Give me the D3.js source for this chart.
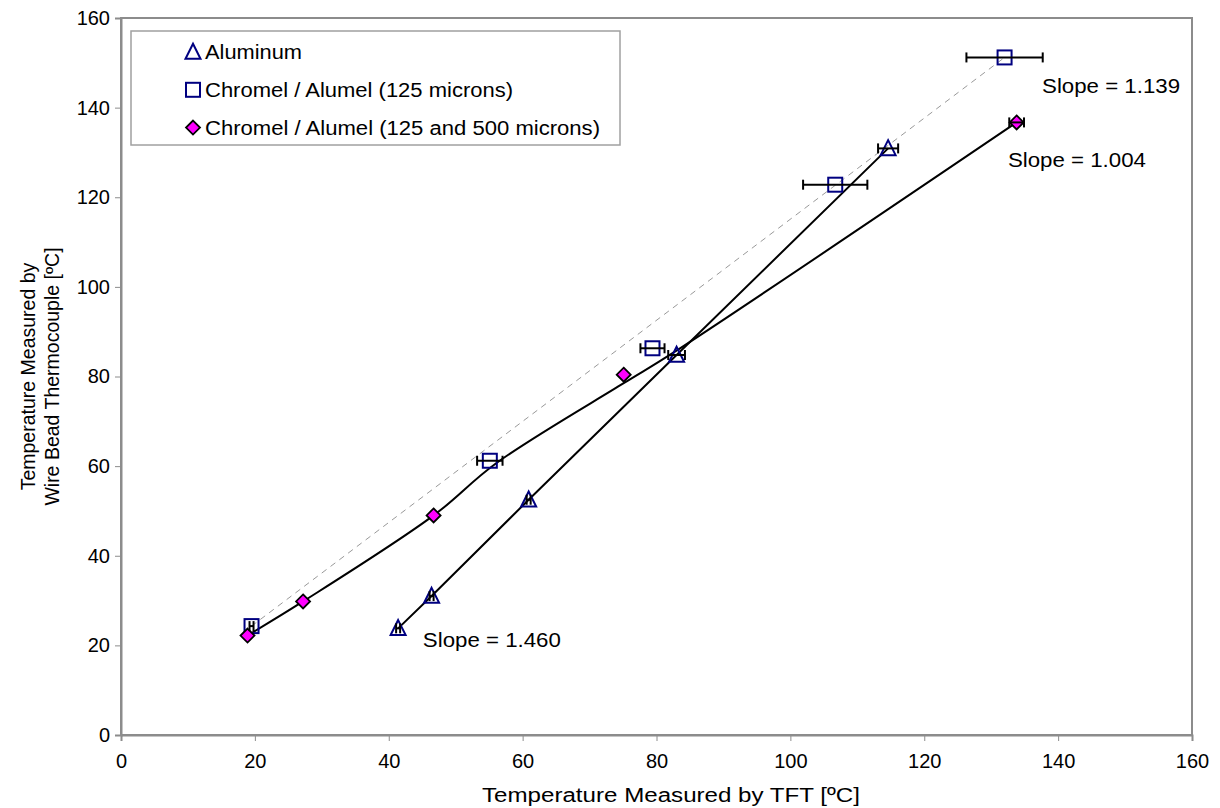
<!DOCTYPE html>
<html><head><meta charset="utf-8">
<script src="https://cdn.jsdelivr.net/npm/d3@7"></script>
<style>body{margin:0;background:#fff}svg{display:block}text{font-family:"Liberation Sans",Arial,sans-serif;fill:#000}</style>
</head><body>
<svg id="c" width="1220" height="808"></svg>
<script>
// ---- data ----
const seriesNames = ["Aluminum", "Chromel / Alumel (125 microns)", "Chromel / Alumel (125 and 500 microns)"];
const aluX = [41.4, 46.4, 60.9, 83.0, 114.6];
const aluY = [23.8, 31.0, 52.5, 84.8, 130.9];
const aluErr = [0.3, 0.3, 0.3, 1.25, 1.5];
const chromX = [19.5, 55.1, 79.4, 106.7, 132.0];
const chromY = [24.3, 61.2, 86.3, 122.8, 151.2];
const chromErr = [0.3, 1.9, 1.8, 4.8, 5.7];
const mixX = [18.9, 27.2, 46.7, 75.1, 133.8];
const mixY = [22.2, 29.8, 49.0, 80.4, 136.7];
const mixErr = [0, 0, 0, 0, 1.1];
// fitted line of the combined chromel/alumel data
const mixFitX = [18.9, 27.2, 46.7, 56.0, 75.1, 82.4, 133.8];
const mixFitY = [22.2, 29.8, 49.0, 60.6, 78.5, 85.2, 136.7];
// dashed trend for 125 micron chromel/alumel
const chromTrendX = [19.5, 132.0];
const chromTrendY = [24.3, 151.2];
const slopeTexts = ["Slope = 1.139", "Slope = 1.004", "Slope = 1.460"];
const slopeX = [137.6, 132.5, 45.1];
const slopeY = [143.3, 126.8, 19.6];
const xTicks = [0, 20, 40, 60, 80, 100, 120, 140, 160];
const yTicks = [0, 20, 40, 60, 80, 100, 120, 140, 160];
const xTitle = "Temperature Measured by TFT [ºC]";
const yTitle = ["Temperature Measured by", "Wire Bead Thermocouple [ºC]"];

// ---- layout ----
const L = 121, R = 1192, T = 18, B = 735;
const svg = d3.select("#c");
const x = d3.scaleLinear().domain([0, 160]).range([L, R]);
const y = d3.scaleLinear().domain([0, 160]).range([B, T]);
const FS = 20;

// frame
svg.append("rect").attr("x", L).attr("y", T).attr("width", R - L).attr("height", B - T)
  .attr("fill", "none").attr("stroke", "#8c8c8c").attr("stroke-width", 2);

// axes
const xa = svg.append("g").attr("transform", `translate(0,${B})`)
  .call(d3.axisBottom(x).tickValues(xTicks).tickSize(6).tickPadding(13).tickFormat(d3.format("d")));
const ya = svg.append("g").attr("transform", `translate(${L},0)`)
  .call(d3.axisLeft(y).tickValues(yTicks).tickSize(6).tickPadding(5).tickFormat(d3.format("d")));
[xa, ya].forEach(a => {
  a.select(".domain").attr("stroke", "#8c8c8c").attr("stroke-width", 2);
  a.selectAll(".tick line").attr("stroke", "#8c8c8c");
  a.selectAll(".tick text").attr("font-size", FS).attr("font-family", "Liberation Sans, Arial, sans-serif").attr("fill", "#000");
});

// titles
svg.append("text").attr("x", 671).attr("y", 802).attr("text-anchor", "middle")
  .attr("font-size", FS).attr("textLength", 378).attr("lengthAdjust", "spacingAndGlyphs").text(xTitle);
yTitle.forEach((t, i) => {
  svg.append("text").attr("transform", `translate(${35 + i * 24},${(T + B) / 2}) rotate(-90)`)
    .attr("text-anchor", "middle").attr("font-size", 19.5).text(t);
});

const line = d3.line().x(d => x(d[0])).y(d => y(d[1]));
const zip = (a, b) => a.map((v, i) => [v, b[i]]);

// dashed trend
svg.append("path").attr("d", line(zip(chromTrendX, chromTrendY)))
  .attr("fill", "none").attr("stroke", "#999").attr("stroke-width", 1).attr("stroke-dasharray", "6,5");
// solid lines
svg.append("path").attr("d", line(zip(aluX, aluY)))
  .attr("fill", "none").attr("stroke", "#000").attr("stroke-width", 2);
svg.append("path").attr("d", d3.line().x(d => x(d[0])).y(d => y(d[1])).curve(d3.curveCatmullRom)(zip(mixFitX, mixFitY)))
  .attr("fill", "none").attr("stroke", "#000").attr("stroke-width", 2);

// error bars
function errBars(xs, ys, es) {
  const g = svg.append("g").attr("stroke", "#000").attr("stroke-width", 2);
  xs.forEach((v, i) => {
    if (!es[i]) return;
    const x0 = x(v - es[i]), x1 = x(v + es[i]), yy = y(ys[i]);
    g.append("line").attr("x1", x0).attr("x2", x1).attr("y1", yy).attr("y2", yy);
    g.append("line").attr("x1", x0).attr("x2", x0).attr("y1", yy - 5).attr("y2", yy + 5);
    g.append("line").attr("x1", x1).attr("x2", x1).attr("y1", yy - 5).attr("y2", yy + 5);
  });
}

// markers
const triPath = (cx, cy, s) => `M${cx},${cy - s * 0.55}L${cx + s / 2},${cy + s * 0.45}L${cx - s / 2},${cy + s * 0.45}Z`;
function tri(g, cx, cy) { g.append("path").attr("d", triPath(cx, cy, 15)).attr("fill", "none").attr("stroke", "#000080").attr("stroke-width", 2); }
function sq(g, cx, cy) { g.append("rect").attr("x", cx - 7).attr("y", cy - 7).attr("width", 14).attr("height", 14).attr("fill", "none").attr("stroke", "#000080").attr("stroke-width", 2); }
function dia(g, cx, cy) { g.append("path").attr("d", `M${cx},${cy - 7}L${cx + 7},${cy}L${cx},${cy + 7}L${cx - 7},${cy}Z`).attr("fill", "#ff00ff").attr("stroke", "#000").attr("stroke-width", 1.8); }

const mg = svg.append("g");
aluX.forEach((v, i) => tri(mg, x(v), y(aluY[i])));
chromX.forEach((v, i) => sq(mg, x(v), y(chromY[i])));
mixX.forEach((v, i) => dia(mg, x(v), y(mixY[i])));
errBars(aluX, aluY, aluErr);
errBars(chromX, chromY, chromErr);
errBars(mixX, mixY, mixErr);

// slope labels
slopeTexts.forEach((s, i) => {
  svg.append("text").attr("x", x(slopeX[i])).attr("y", y(slopeY[i])).attr("font-size", FS)
    .attr("textLength", 138).attr("lengthAdjust", "spacingAndGlyphs").text(s);
});

// legend
const lg = svg.append("g");
lg.append("rect").attr("x", 131).attr("y", 31).attr("width", 489).attr("height", 114)
  .attr("fill", "#fff").attr("stroke", "#a0a0a0").attr("stroke-width", 1.5);
const mk = [tri, sq, dia];
const legLen = [97, 308, 395];
seriesNames.forEach((n, i) => {
  const cy = 52 + i * 37.8;
  mk[i](lg, 193, cy);
  lg.append("text").attr("x", 205).attr("y", cy + 7).attr("font-size", FS)
    .attr("textLength", legLen[i]).attr("lengthAdjust", "spacingAndGlyphs").text(n);
});
</script>
</body></html>
